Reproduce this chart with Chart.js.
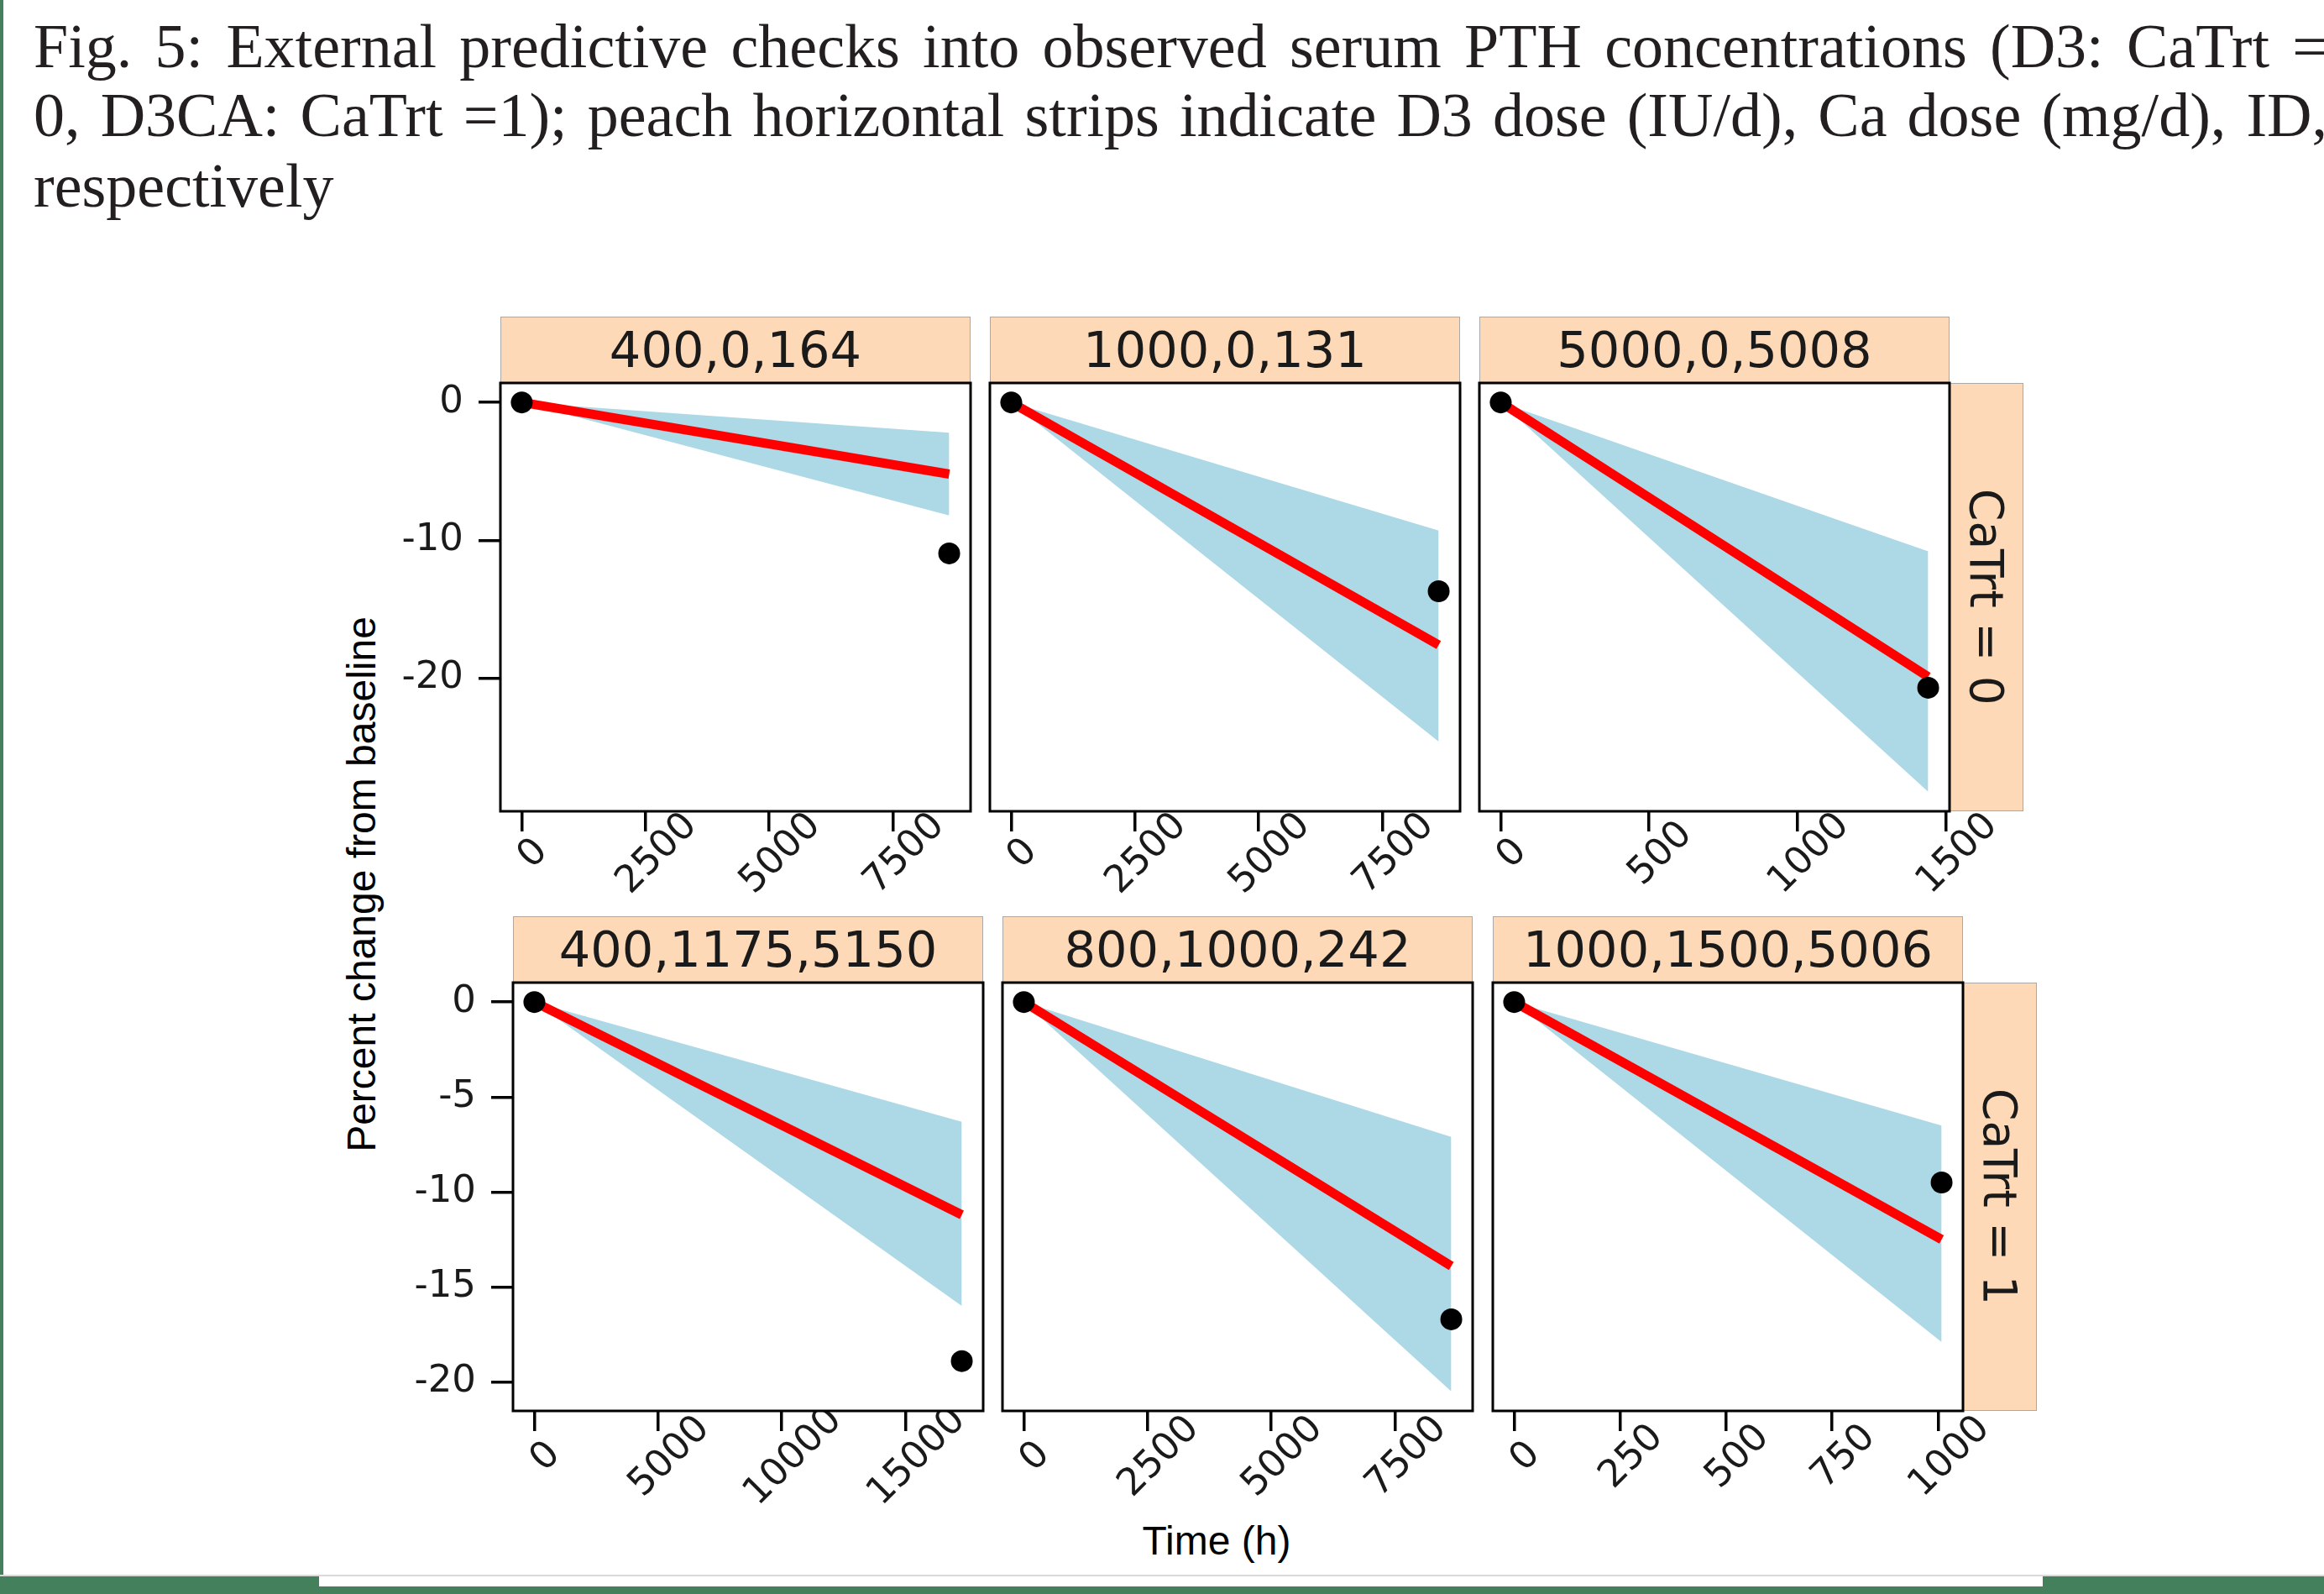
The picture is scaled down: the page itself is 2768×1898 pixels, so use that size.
<!DOCTYPE html>
<html>
<head>
<meta charset="utf-8">
<script src="https://cdn.jsdelivr.net/npm/chart.js@4.4.1/dist/chart.umd.min.js"></script>
<style>
  html, body { margin: 0; padding: 0; background: #ffffff; }
  body { width: 2768px; height: 1898px; position: relative; overflow: hidden; }
  .cap { position: absolute; left: 40px; font-family: "Liberation Serif", serif; font-size: 74px; line-height: 74px; white-space: nowrap; color: #231f20; }
  .strip { position: absolute; box-sizing: border-box; background: #fdd9b7; border: 1.5px solid #a9a9a9; display: flex; align-items: center; justify-content: center; font-family: "DejaVu Sans", sans-serif; font-size: 59px; color: #1a1a1a; }
  .vtext { writing-mode: vertical-rl; font-size: 55px; }
  .title { position: absolute; font-family: "Liberation Sans", Arial, sans-serif; font-size: 48px; line-height: 48px; color: #000; white-space: nowrap; }
  canvas { position: absolute; }
  .deco { position: absolute; }
</style>
</head>
<body>
<div class="deco" style="left:0;top:0;width:4px;height:1877px;background:#45805c;"></div>
<div class="deco" style="left:0;top:1875px;width:2768px;height:2px;background:#d9d9d9;"></div>
<div class="deco" style="left:0;top:1877px;width:2768px;height:21px;background:#45805c;"></div>
<div class="deco" style="left:380px;top:1877px;width:2053px;height:12px;background:#ffffff;"></div>

<div id="cap1" class="cap" style="top:18px;">Fig. 5: External predictive checks into observed serum PTH concentrations (D3: CaTrt =</div>
<div id="cap2" class="cap" style="top:100px;">0, D3CA: CaTrt =1); peach horizontal strips indicate D3 dose (IU/d), Ca dose (mg/d), ID,</div>
<div id="cap3" class="cap" style="top:184px;">respectively</div>

<div id="ytitle" class="title">Percent change from baseline</div>
<div id="xtitle" class="title">Time (h)</div>

<script>
// ---------------- data ----------------
const panelLabels = ["400,0,164", "1000,0,131", "5000,0,5008", "400,1175,5150", "800,1000,242", "1000,1500,5006"];
const rowLabels = ["CaTrt = 0", "CaTrt = 1"];
const panelRow = [0, 0, 0, 1, 1, 1];

const timeH = [[0, 8640], [0, 8640], [0, 1440], [0, 17280], [0, 8640], [0, 1008]];
const observedChange = [[0, -10.95], [0, -13.7], [0, -20.7], [0, -18.9], [0, -16.7], [0, -9.5]];
const predMedian = [[0, -5.2], [0, -17.6], [0, -19.9], [0, -11.2], [0, -13.9], [0, -12.5]];
const predLower = [[0, -8.2], [0, -24.6], [0, -28.25], [0, -16.0], [0, -20.5], [0, -17.9]];
const predUpper = [[0, -2.2], [0, -9.3], [0, -10.8], [0, -6.3], [0, -7.1], [0, -6.5]];

const xTickValues = [
  [0, 2500, 5000, 7500],
  [0, 2500, 5000, 7500],
  [0, 500, 1000, 1500],
  [0, 5000, 10000, 15000],
  [0, 2500, 5000, 7500],
  [0, 250, 500, 750, 1000]
];
const yTickValues = [[0, -10, -20], [0, -5, -10, -15, -20]];

// ---------------- layout (styles) ----------------
const ROW_TOP = [456, 1170];
const COL_LEFT = [[596, 1179, 1762], [611, 1194, 1778]];
const PANEL_W = 560, PANEL_H = 510;
const STRIP_H = 79, RSTRIP_W = 88;
const LM = 140, RM = 90, TM = 20, BM = 115;
const LABEL_DX = 14, LABEL_DY = [51, 55];
const TICK_FONT = { family: "DejaVu Sans", size: 45 };

// row y ranges with 5% expansion
const rowRange = [0, 1].map(r => {
  let lo = Infinity, hi = -Infinity;
  panelRow.forEach((pr, i) => {
    if (pr !== r) return;
    [predLower[i], predUpper[i], predMedian[i], observedChange[i]].forEach(a => a.forEach(v => {
      lo = Math.min(lo, v); hi = Math.max(hi, v);
    }));
  });
  const e = (hi - lo) * 0.05;
  return [lo - e, hi + e];
});

// caption justification
function fitLine(id, target) {
  const el = document.getElementById(id);
  const w = el.getBoundingClientRect().width;
  const spaces = (el.textContent.match(/ /g) || []).length;
  if (spaces > 0) el.style.wordSpacing = ((target - w) / spaces) + "px";
}
fitLine("cap1", 2732);
fitLine("cap2", 2732);

// axis titles
(function () {
  const yt = document.getElementById("ytitle");
  const r = yt.getBoundingClientRect();
  yt.style.left = (431 - r.width / 2) + "px";
  yt.style.top = (1053 - r.height / 2) + "px";
  yt.style.transform = "rotate(-90deg)";
  const xt = document.getElementById("xtitle");
  const r2 = xt.getBoundingClientRect();
  xt.style.left = (1449 - r2.width / 2) + "px";
  xt.style.top = "1811px";
})();

const boxPlugin = {
  id: "panelBox",
  afterDraw(chart) {
    const a = chart.chartArea, ctx = chart.ctx;
    ctx.save();
    ctx.strokeStyle = "#000";
    ctx.lineWidth = 3;
    ctx.strokeRect(a.left, a.top, a.right - a.left, a.bottom - a.top);
    ctx.restore();
  }
};

function centerLabelsPlugin(row) {
  return {
    id: "centerLabels",
    beforeDraw(chart) {
      const sc = chart.scales.x;
      const items = sc.getLabelItems(chart.chartArea);
      items.forEach((it, k) => {
        const px = sc.getPixelForTick(k);
        it.textOffset = 0;
        it.options.textAlign = "center";
        it.options.textBaseline = "middle";
        it.options.translation = [px + LABEL_DX, sc.top + LABEL_DY[row]];
      });
    }
  };
}

function zeroPad(sc) {
  sc.paddingLeft = 0; sc.paddingRight = 0; sc.paddingTop = 0; sc.paddingBottom = 0;
}

Chart.defaults.font.family = "DejaVu Sans";

panelLabels.forEach((lab, i) => {
  const r = panelRow[i], c = i % 3;
  const L = COL_LEFT[r][c], T = ROW_TOP[r];

  // strips
  const s = document.createElement("div");
  s.className = "strip";
  s.style.left = L + "px"; s.style.top = (T - STRIP_H) + "px";
  s.style.width = PANEL_W + "px"; s.style.height = STRIP_H + "px";
  s.textContent = lab;
  document.body.appendChild(s);
  if (c === 2) {
    const rs = document.createElement("div");
    rs.className = "strip";
    rs.style.left = (L + PANEL_W) + "px"; rs.style.top = T + "px";
    rs.style.width = RSTRIP_W + "px"; rs.style.height = PANEL_H + "px";
    const sp = document.createElement("span");
    sp.className = "vtext";
    sp.textContent = rowLabels[r];
    rs.appendChild(sp);
    document.body.appendChild(rs);
  }

  const cv = document.createElement("canvas");
  const cw = PANEL_W + LM + RM, ch = PANEL_H + TM + BM;
  cv.width = cw; cv.height = ch;
  cv.style.width = cw + "px"; cv.style.height = ch + "px";
  cv.style.left = (L - LM) + "px"; cv.style.top = (T - TM) + "px";
  document.body.appendChild(cv);

  const pts = arr => timeH[i].map((t, k) => ({ x: t, y: arr[i][k] }));
  const Tmax = Math.max(...timeH[i]);

  new Chart(cv, {
    type: "line",
    data: {
      datasets: [
        { label: "Observed", data: pts(observedChange), showLine: false, pointRadius: 13, pointHoverRadius: 13,
          pointBackgroundColor: "#000", pointBorderWidth: 0, borderColor: "#000" },
        { label: "Median", data: pts(predMedian), borderColor: "#ff0000", borderWidth: 11, pointRadius: 0, tension: 0, fill: false, borderCapStyle: "butt" },
        { label: "Upper", data: pts(predUpper), borderColor: "rgba(0,0,0,0)", borderWidth: 0, pointRadius: 0, tension: 0,
          backgroundColor: "#add8e6", fill: 3 },
        { label: "Lower", data: pts(predLower), borderColor: "rgba(0,0,0,0)", borderWidth: 0, pointRadius: 0, tension: 0, fill: false }
      ]
    },
    options: {
      responsive: false,
      animation: false,
      devicePixelRatio: 1,
      events: [],
      layout: { autoPadding: false, padding: { left: 0, right: RM, top: TM, bottom: 0 } },
      plugins: { legend: { display: false }, tooltip: { enabled: false } },
      scales: {
        x: {
          type: "linear", position: "bottom",
          min: -0.05 * Tmax, max: 1.05 * Tmax,
          afterBuildTicks: sc => { sc.ticks = xTickValues[i].map(v => ({ value: v })); },
          afterFit: sc => { sc.height = BM; zeroPad(sc); },
          ticks: { autoSkip: false, minRotation: 45, maxRotation: 45, font: TICK_FONT, color: "#1a1a1a", callback: v => String(v) },
          grid: { drawOnChartArea: false, drawTicks: true, tickLength: 24, tickWidth: 3.5, tickColor: "#000", lineWidth: 3.5, color: "#000" },
          border: { display: false }
        },
        y: {
          type: "linear", position: "left", display: c === 0,
          min: rowRange[r][0], max: rowRange[r][1],
          afterBuildTicks: sc => { sc.ticks = yTickValues[r].map(v => ({ value: v })); },
          afterFit: sc => { sc.width = LM; zeroPad(sc); },
          ticks: { autoSkip: false, font: TICK_FONT, color: "#1a1a1a", padding: 18, callback: v => String(v) },
          grid: { drawOnChartArea: false, drawTicks: true, tickLength: 26, tickWidth: 3.5, tickColor: "#000", lineWidth: 3.5, color: "#000" },
          border: { display: false }
        }
      }
    },
    plugins: [boxPlugin, centerLabelsPlugin(r)]
  });
});
</script>
</body>
</html>
